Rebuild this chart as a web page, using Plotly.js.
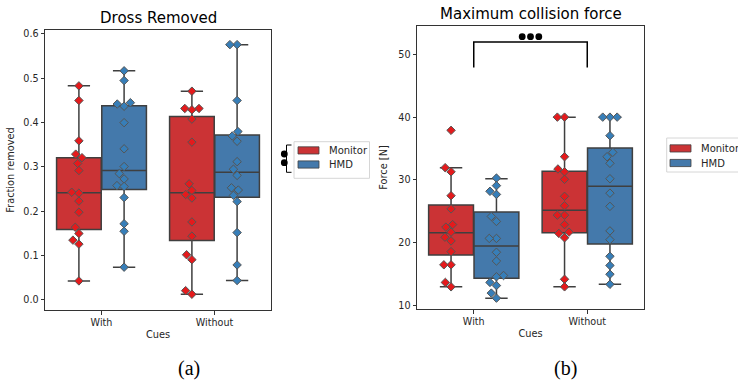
<!DOCTYPE html>
<html>
<head>
<meta charset="utf-8">
<script src="https://cdn.plot.ly/plotly-3.0.1.min.js"></script>
<style>html,body{margin:0;padding:0;background:#fff;}#chart{width:738px;height:381px;}</style>
</head>
<body>
<div id="chart"></div>
<script>
// ---------- data ----------
const categories = ['With', 'Without'];
const groups = ['Monitor', 'HMD'];

// (a) Dross removed, swarm points
const drossMonitorWith    = [0.483,0.450,0.359,0.329,0.321,0.308,0.292,0.243,0.241,0.223,0.198,0.164,0.150,0.135,0.126,0.043];
const drossMonitorWithout = [0.471,0.432,0.432,0.429,0.408,0.356,0.262,0.247,0.238,0.230,0.176,0.144,0.102,0.091,0.021,0.013];
const drossHmdWith        = [0.517,0.495,0.445,0.442,0.437,0.400,0.341,0.301,0.285,0.273,0.258,0.256,0.231,0.172,0.155,0.074];
const drossHmdWithout     = [0.576,0.576,0.450,0.380,0.370,0.358,0.312,0.295,0.281,0.253,0.248,0.236,0.222,0.152,0.079,0.044];

// (a) box statistics per group, [With, Without]
const drossMonitorQ1 = [0.159, 0.134];
const drossMonitorMed = [0.242, 0.242];
const drossMonitorQ3 = [0.321, 0.414];
const drossMonitorLo = [0.043, 0.013];
const drossMonitorHi = [0.483, 0.471];
const drossHmdQ1 = [0.249, 0.232];
const drossHmdMed = [0.292, 0.288];
const drossHmdQ3 = [0.438, 0.372];
const drossHmdLo = [0.074, 0.044];
const drossHmdHi = [0.517, 0.576];

// (b) Maximum collision force, swarm points
const forceMonitorWith    = [37.9,31.96,31.3,27.5,25.4,22.9,22.5,21.7,20.9,20.3,18.6,16.5,16.5,13.7,13.0];
const forceMonitorWithout = [40,40,33.7,31.75,31.3,30.1,27.4,25.9,24.4,24.4,22.9,21.7,21.5,20.8,14.2,13.0];
const forceHmdWith        = [30.3,29.1,28.2,27.7,24.2,23.4,20.7,20.7,18.5,17.1,14.8,14.6,13.7,13.2,12.0,11.2];
const forceHmdWithout     = [40,40,40,37.05,34.4,33.7,32.65,30.2,27.9,25.8,21.9,20.5,17.85,16.4,15.0,13.4];

// (b) box statistics per group, [With, Without]
const forceMonitorQ1 = [18.06, 21.6];
const forceMonitorMed = [21.6, 25.2];
const forceMonitorQ3 = [26.0, 31.4];
const forceMonitorLo = [13.0, 13.0];
const forceMonitorHi = [31.96, 40];
const forceHmdQ1 = [14.35, 19.8];
const forceHmdMed = [19.5, 29.0];
const forceHmdQ3 = [24.9, 35.1];
const forceHmdLo = [11.2, 13.4];
const forceHmdHi = [30.2, 40];

// significance bracket in (b)
const sigBracket = {from: 0, to: 1, low: 47.9, high: 51.95, dots: 52.8};

// ---------- layout constants ----------
const W = 738, H = 381;
const FONT = 'DejaVu Sans';
const boxColors = {Monitor: '#cb3335', HMD: '#4479ab'};
const pointColors = {Monitor: '#e41a1c', HMD: '#377eb8'};
const edge = '#3f3f3f';
const textColor = '#262626';
const groupOffset = {Monitor: -0.2, HMD: 0.2};

const axA = {x0: 45, x1: 271, y0: 30, y1: 310, xr: [-0.5, 1.5], yr: [-0.0226, 0.609]};
const axB = {x0: 417, x1: 644, y0: 26, y1: 309, xr: [-0.5, 1.5], yr: [9.47, 54.5]};

// legend boxes (pixel positions)
const legA = {x0: 294, x1: 369.5, y0: 141.7, y1: 178.3, patchX: 298, patchW: 21, textX: 327, rows: [150.4, 164.5]};
const legB = {x0: 666.7, x1: 750, y0: 138, y1: 172, patchX: 670, patchW: 21, textX: 699, rows: [148.4, 163]};

function scales(ax) {
  return {
    px: (ax.x1 - ax.x0) / (ax.xr[1] - ax.xr[0]),
    py: (ax.y1 - ax.y0) / (ax.yr[1] - ax.yr[0])
  };
}

// beeswarm offsets (data units on x) computed from values
function swarm(vals, pxPerX, pxPerY, d) {
  const idx = vals.map((v, i) => i).sort((a, b) => vals[a] - vals[b]);
  const placed = [];
  const out = new Array(vals.length).fill(0);
  for (const i of idx) {
    const yp = vals[i] * pxPerY;
    const cands = [0];
    for (const p of placed) {
      const dy = Math.abs(p.yp - yp);
      if (dy < d) {
        const dx = Math.sqrt(d * d - dy * dy);
        cands.push(p.xp - dx, p.xp + dx);
      }
    }
    cands.sort((a, b) => Math.abs(a) - Math.abs(b));
    let chosen = 0;
    for (const c of cands) {
      if (placed.every(p => (p.xp - c) ** 2 + (p.yp - yp) ** 2 >= d * d - 1e-6)) { chosen = c; break; }
    }
    placed.push({xp: chosen, yp: yp});
    out[i] = chosen / pxPerX;
  }
  return out;
}

const traces = [];

function addPanel(ax, xa, ya, stats, points) {
  const sc = scales(ax);
  groups.forEach(g => {
    const s = stats[g];
    traces.push({
      type: 'box',
      name: g,
      showlegend: false,
      xaxis: xa, yaxis: ya,
      x: categories.map((c, i) => i + groupOffset[g]),
      q1: s.q1, median: s.med, q3: s.q3, lowerfence: s.lo, upperfence: s.hi,
      width: 0.395,
      whiskerwidth: 0.5,
      boxpoints: false,
      fillcolor: boxColors[g],
      line: {color: edge, width: 1.5},
      hoverinfo: 'skip'
    });
  });
  groups.forEach(g => {
    categories.forEach((c, i) => {
      const vals = points[g][i];
      const dx = swarm(vals, sc.px, sc.py, 7.2);
      traces.push({
        type: 'scatter',
        mode: 'markers',
        name: g + ' ' + c,
        showlegend: false,
        xaxis: xa, yaxis: ya,
        x: vals.map((v, k) => i + groupOffset[g] + dx[k]),
        y: vals,
        marker: {symbol: 'diamond', size: 6.5, color: pointColors[g], line: {color: '#555555', width: 1}},
        hoverinfo: 'y'
      });
    });
  });
}

addPanel(axA, 'x', 'y',
  {Monitor: {q1: drossMonitorQ1, med: drossMonitorMed, q3: drossMonitorQ3, lo: drossMonitorLo, hi: drossMonitorHi},
   HMD: {q1: drossHmdQ1, med: drossHmdMed, q3: drossHmdQ3, lo: drossHmdLo, hi: drossHmdHi}},
  {Monitor: [drossMonitorWith, drossMonitorWithout], HMD: [drossHmdWith, drossHmdWithout]});

addPanel(axB, 'x2', 'y2',
  {Monitor: {q1: forceMonitorQ1, med: forceMonitorMed, q3: forceMonitorQ3, lo: forceMonitorLo, hi: forceMonitorHi},
   HMD: {q1: forceHmdQ1, med: forceHmdMed, q3: forceHmdQ3, lo: forceHmdLo, hi: forceHmdHi}},
  {Monitor: [forceMonitorWith, forceMonitorWithout], HMD: [forceHmdWith, forceHmdWithout]});

const px = v => v / W;
const py = v => 1 - v / H;

function axisX(ax, anchor) {
  return {
    domain: [px(ax.x0), px(ax.x1)], anchor: anchor, range: ax.xr,
    tickvals: categories.map((c, i) => i), ticktext: categories,
    ticks: 'outside', ticklen: 3.5, tickwidth: 1, tickcolor: '#333',
    showline: true, mirror: true, linecolor: '#333', linewidth: 1,
    showgrid: false, zeroline: false, automargin: false,
    tickfont: {family: FONT, size: 9.6, color: textColor},
    title: {text: 'Cues', font: {family: FONT, size: 9.8, color: textColor}, standoff: 4}
  };
}
function axisY(ax, anchor, title, dtick, fmt, standoff) {
  return {
    domain: [py(ax.y1), py(ax.y0)], anchor: anchor, range: ax.yr,
    dtick: dtick, tickformat: fmt,
    ticks: 'outside', ticklen: 3.5, tickwidth: 1, tickcolor: '#333',
    showline: true, mirror: true, linecolor: '#333', linewidth: 1,
    showgrid: false, zeroline: false, automargin: false,
    tickfont: {family: FONT, size: 9.6, color: textColor},
    title: {text: title, font: {family: FONT, size: 9.8, color: textColor}, standoff: standoff}
  };
}

const dotR = 3.4;
const shapes = [
  // significance bracket (b)
  {type: 'path', xref: 'x2', yref: 'y2',
   path: `M${sigBracket.from},${sigBracket.low} L${sigBracket.from},${sigBracket.high} L${sigBracket.to},${sigBracket.high} L${sigBracket.to},${sigBracket.low}`,
   line: {color: '#000', width: 1.5}},
  // legend-side bracket (a)
  {type: 'path', xref: 'paper', yref: 'paper',
   path: `M${px(291.5)},${py(145)} L${px(286.5)},${py(145)} L${px(286.5)},${py(172.3)} L${px(291.5)},${py(172.3)}`,
   line: {color: '#000', width: 1}}
];
[-8.3, 0, 8.3].forEach(o => {
  shapes.push({type: 'circle', xref: 'x2', yref: 'y2', xsizemode: 'pixel', ysizemode: 'pixel',
    xanchor: (sigBracket.from + sigBracket.to) / 2, yanchor: sigBracket.dots,
    x0: o - dotR, x1: o + dotR, y0: -dotR, y1: dotR,
    fillcolor: '#000', line: {color: '#000', width: 0}});
});
[154, 162.7].forEach(cy => {
  shapes.push({type: 'circle', xref: 'paper', yref: 'paper',
    x0: px(284.3 - dotR), x1: px(284.3 + dotR), y0: py(cy + dotR), y1: py(cy - dotR),
    fillcolor: '#000', line: {color: '#000', width: 0}});
});

const annotations = [
  {text: 'Dross Removed', xref: 'paper', yref: 'paper', x: px(158), y: py(18), xanchor: 'center', yanchor: 'middle',
   showarrow: false, font: {family: FONT, size: 15, color: '#000'}},
  {text: 'Maximum collision force', xref: 'paper', yref: 'paper', x: px(530.5), y: py(14), xanchor: 'center', yanchor: 'middle',
   showarrow: false, font: {family: FONT, size: 15, color: '#000'}},
  {text: '(a)', xref: 'paper', yref: 'paper', x: px(189), y: py(368), xanchor: 'center', yanchor: 'middle',
   showarrow: false, font: {family: 'Liberation Serif', size: 20, color: '#000'}},
  {text: '(b)', xref: 'paper', yref: 'paper', x: px(565), y: py(368), xanchor: 'center', yanchor: 'middle',
   showarrow: false, font: {family: 'Liberation Serif', size: 20, color: '#000'}}
];

// legends drawn as frame + colour patches + text
[legA, legB].forEach(L => {
  shapes.push({type: 'rect', xref: 'paper', yref: 'paper',
    x0: px(L.x0), x1: px(L.x1), y0: py(L.y1), y1: py(L.y0),
    fillcolor: 'rgba(255,255,255,0.8)', line: {color: '#d6d6d6', width: 1}});
  groups.forEach((g, k) => {
    const cy = L.rows[k];
    shapes.push({type: 'rect', xref: 'paper', yref: 'paper',
      x0: px(L.patchX), x1: px(L.patchX + L.patchW), y0: py(cy + 3.6), y1: py(cy - 3.6),
      fillcolor: boxColors[g], line: {color: edge, width: 0.8}});
    annotations.push({text: g, xref: 'paper', yref: 'paper', x: px(L.textX), y: py(cy),
      xanchor: 'left', yanchor: 'middle', showarrow: false,
      font: {family: FONT, size: 10, color: textColor}});
  });
});

const layout = {
  width: W, height: H,
  margin: {l: 0, r: 0, t: 0, b: 0},
  paper_bgcolor: '#fff', plot_bgcolor: '#fff',
  font: {family: FONT, color: textColor},
  xaxis: axisX(axA, 'y'),
  yaxis: axisY(axA, 'x', 'Fraction removed', 0.1, '.1f', 6),
  xaxis2: axisX(axB, 'y2'),
  yaxis2: axisY(axB, 'x2', 'Force [N]', 10, 'd', 8),
  showlegend: false,
  shapes: shapes,
  annotations: annotations
};

Plotly.newPlot('chart', traces, layout, {staticPlot: true, displayModeBar: false});
</script>
</body>
</html>
